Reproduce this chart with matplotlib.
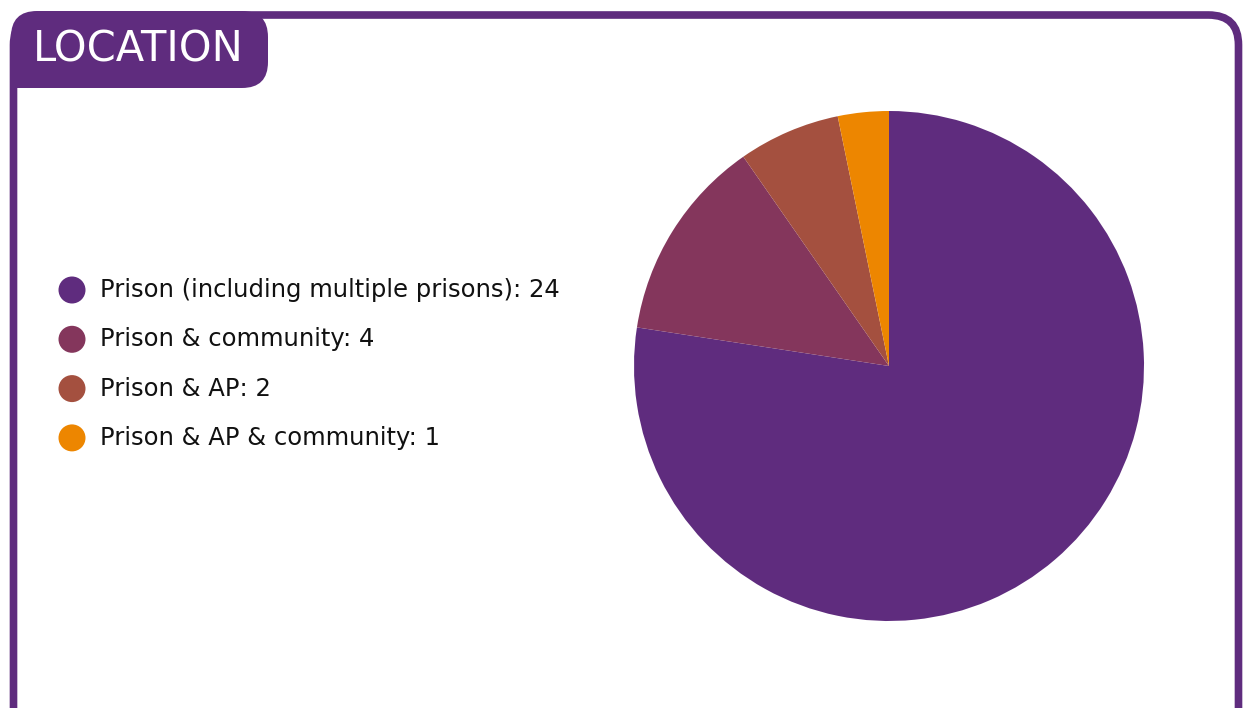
import matplotlib
matplotlib.use("Agg")
import matplotlib.pyplot as plt
from matplotlib.patches import FancyBboxPatch, Circle, Rectangle

# Location breakdown
labels = [
    "Prison (including multiple prisons)",
    "Prison & community",
    "Prison & AP",
    "Prison & AP & community",
]
counts = [24, 4, 2, 1]
colors = ["#5f2c7e", "#84365c", "#a4503f", "#ed8600"]
title = "LOCATION"

W, H = 1244, 708
FRAME = "#5f2c7e"
FONT = ["DejaVu Sans"]

fig = plt.figure(figsize=(W / 100, H / 100), dpi=100)
ax = fig.add_axes([0, 0, 1, 1])


def y(py):
    # work in top-down pixel rows
    return H - py


# pie
ax.pie(
    counts,
    colors=colors,
    startangle=90,
    counterclock=False,
    center=(889, y(366)),
    radius=255,
    wedgeprops={"linewidth": 0},
    frame=True,
)

# rounded outer frame, bottom runs off the canvas
frame = FancyBboxPatch(
    (13.5, y(740)), 1225, 725,
    boxstyle="round,pad=0,rounding_size=30",
    facecolor="none", edgecolor=FRAME, linewidth=5.5,
)
ax.add_patch(frame)

# header tab, square at the bottom-left where it meets the frame
tab = FancyBboxPatch(
    (11, y(88)), 257, 77,
    boxstyle="round,pad=0,rounding_size=26",
    facecolor=FRAME, edgecolor="none",
)
ax.add_patch(tab)
ax.add_patch(Rectangle((11, y(88)), 30, 30, facecolor=FRAME, edgecolor="none"))
ax.text(33, y(50), title, color="white", fontsize=30, family=FONT,
        ha="left", va="center")

# legend
for i, (lab, n, c) in enumerate(zip(labels, counts, colors)):
    cy = y(290 + i * 49.3)
    ax.add_patch(Circle((72, cy), 13.5, facecolor=c, edgecolor="none"))
    ax.text(100, cy, f"{lab}: {n}", fontsize=17.5, family=FONT,
            color="#111111", ha="left", va="center")

ax.set_xlim(0, W)
ax.set_ylim(0, H)
ax.set_aspect("auto")
ax.axis("off")

fig.savefig("out.png", dpi=100, facecolor="white")
